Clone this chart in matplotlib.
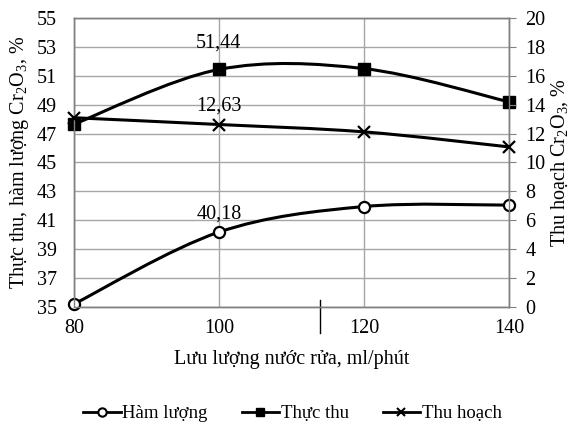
import matplotlib.pyplot as plt
from matplotlib.path import Path
from matplotlib.patches import PathPatch
from matplotlib.lines import Line2D

plt.rcParams['font.family'] = ['Liberation Serif', 'DejaVu Serif']
plt.rcParams['mathtext.fontset'] = 'custom'
plt.rcParams['mathtext.rm'] = 'Liberation Serif'

# flow rate of wash water, ml/min
flow = [80, 100, 120, 140]
# left axis
ham_luong = [35.2, 40.18, 41.95, 42.05]
thuc_thu = [47.65, 51.44, 51.5, 49.2]
# right axis
thu_hoach = [13.1, 12.63, 12.12, 11.08]


def smooth_path(xs, ys):
    # Excel-style smoothed line: cubic Bezier through the points
    pts = list(zip(xs, ys))
    n = len(pts)
    verts = [pts[0]]
    codes = [Path.MOVETO]
    for i in range(n - 1):
        p0 = pts[max(i - 1, 0)]
        p1 = pts[i]
        p2 = pts[i + 1]
        p3 = pts[min(i + 2, n - 1)]
        c1 = (p1[0] + (p2[0] - p0[0]) / 6, p1[1] + (p2[1] - p0[1]) / 6)
        c2 = (p2[0] - (p3[0] - p1[0]) / 6, p2[1] - (p3[1] - p1[1]) / 6)
        verts += [c1, c2, p2]
        codes += [Path.CURVE4] * 3
    return PathPatch(Path(verts, codes), fill=False, edgecolor='black', lw=2.2,
                     zorder=3, clip_on=False)


fig = plt.figure(figsize=(5.68, 4.24), dpi=100)
ax = fig.add_axes([0.130, 0.276, 0.766, 0.6815])
ax2 = ax.twinx()

ax.add_patch(smooth_path(flow, ham_luong))
ax.add_patch(smooth_path(flow, thuc_thu))
ax2.add_patch(smooth_path(flow, thu_hoach))

ax.plot(flow, ham_luong, ls='none', marker='o', ms=8, mfc='white', mec='black', mew=1.6,
        zorder=4, clip_on=False)
ax.plot(flow, thuc_thu, ls='none', marker='s', ms=8, color='black', zorder=4, clip_on=False)
ax2.plot(flow, thu_hoach, ls='none', marker='x', ms=8, mec='black', mew=1.6, zorder=4,
         clip_on=False)

ax.set_xlim(80, 140)
ax.set_ylim(35, 55)
ax2.set_ylim(0, 20)
ax.set_xticks([80, 100, 120, 140])
ax.set_yticks(range(35, 56, 2))
ax2.set_yticks(range(0, 21, 2))

ax.grid(True, color='#a6a6a6', lw=1.0)
ax.set_axisbelow(True)
for a in (ax, ax2):
    for s in a.spines.values():
        s.set_color('#808080')
        s.set_linewidth(1.0)
fs = 14.5
ax.tick_params(axis='both', length=0, labelsize=fs, pad=9)
ax.tick_params(axis='y', pad=12)
ax2.tick_params(axis='y', length=5, color='#808080', labelsize=fs, pad=7)

ax.set_xlabel('Lưu lượng nước rửa, ml/phút', fontsize=fs, labelpad=8)
ax.set_ylabel(r'Thực thu, hàm lượng Cr$_\mathregular{2}$O$_\mathregular{3}$, %', fontsize=fs, labelpad=4)
ax2.set_ylabel(r'Thu hoạch Cr$_\mathregular{2}$O$_\mathregular{3}$, %', fontsize=fs, labelpad=2)

# value labels
ax.annotate('51,44', (flow[1], thuc_thu[1]), xytext=(0, 16), textcoords='offset points',
            ha='center', fontsize=fs)
ax2.annotate('12,63', (flow[1], thu_hoach[1]), xytext=(0, 10), textcoords='offset points',
             ha='center', fontsize=fs)
ax.annotate('40,18', (flow[1], ham_luong[1]), xytext=(0, 10), textcoords='offset points',
            ha='center', fontsize=fs)

# stray tick below the axis
ax.plot([0.566, 0.566], [0.025, -0.09], transform=ax.transAxes, color='black', lw=1.0,
        clip_on=False)

handles = [
    Line2D([], [], color='black', lw=2, marker='o', ms=6, mfc='white', mew=1.5),
    Line2D([], [], color='black', lw=2, marker='s', ms=6),
    Line2D([], [], color='black', lw=2, marker='x', ms=6, mew=1.5),
]
fig.legend(handles, ['Hàm lượng', 'Thực thu', 'Thu hoạch'], loc='center',
           bbox_to_anchor=(0.515, 0.024), ncol=3, frameon=False, fontsize=13.5,
           handlelength=2.0, handletextpad=0.1, columnspacing=1.8)

plt.savefig('out.png', dpi=100)
plt.close()
